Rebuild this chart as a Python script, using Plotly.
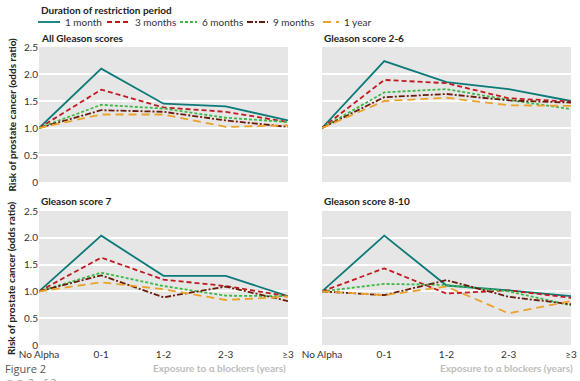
import plotly.graph_objects as go

categories = ["No Alpha", "0-1", "1-2", "2-3", "≥3"]
series_names = ["1 month", "3 months", "6 months", "9 months", "1 year"]
panel_titles = ["All Gleason scores", "Gleason score 2-6", "Gleason score 7", "Gleason score 8-10"]

all_scores = [
    [1.0, 2.10, 1.45, 1.40, 1.14],
    [1.0, 1.71, 1.38, 1.30, 1.11],
    [1.0, 1.43, 1.36, 1.19, 1.11],
    [1.0, 1.33, 1.30, 1.14, 1.02],
    [1.0, 1.25, 1.25, 1.02, 1.05],
]
score_2_6 = [
    [1.0, 2.24, 1.85, 1.72, 1.50],
    [1.0, 1.89, 1.83, 1.55, 1.49],
    [1.0, 1.66, 1.72, 1.52, 1.35],
    [1.0, 1.57, 1.63, 1.51, 1.47],
    [1.0, 1.50, 1.56, 1.42, 1.41],
]
score_7 = [
    [1.0, 2.04, 1.29, 1.29, 0.91],
    [1.0, 1.63, 1.22, 1.10, 0.91],
    [1.0, 1.35, 1.10, 0.92, 0.91],
    [1.0, 1.30, 0.89, 1.09, 0.82],
    [1.0, 1.17, 1.04, 0.84, 0.90],
]
score_8_10 = [
    [1.0, 2.04, 1.11, 1.02, 0.91],
    [1.0, 1.43, 0.96, 1.02, 0.88],
    [1.0, 1.14, 1.12, 1.00, 0.74],
    [1.0, 0.93, 1.21, 0.90, 0.76],
    [1.0, 0.93, 1.09, 0.59, 0.82],
]
y_ticks = [0, 0.5, 1.0, 1.5, 2.0, 2.5]
y_tick_labels = ["0", "0.5", "1.0", "1.5", "2.0", "2.5"]

colors = ["#0b7a78", "#c01a1f", "#3cb846", "#6a1c0c", "#eaa22a"]
dashes = ["solid", "5px,3px", "3px,2px", "6px,2px,2px,2px", "8px,5px"]

W, H = 580, 381
FONT = "Lato"

def px_x(p):
    return p / W

def px_y(p):
    return 1 - p / H

x_domains = [[px_x(39), px_x(288)], [px_x(322), px_x(571)]]
y_domains = [[px_y(182), px_y(47)], [px_y(345), px_y(211)]]

panels = [all_scores, score_2_6, score_7, score_8_10]

fig = go.Figure()
layout = {}
for p, data in enumerate(panels):
    row, col = divmod(p, 2)
    idx = p + 1
    xa = "x" if idx == 1 else f"x{idx}"
    ya = "y" if idx == 1 else f"y{idx}"
    for s, vals in enumerate(data):
        fig.add_trace(go.Scatter(
            x=list(range(len(categories))), y=vals, mode="lines",
            name=series_names[s], showlegend=False,
            line=dict(color=colors[s], width=1.8, dash=dashes[s]),
            xaxis=xa, yaxis=ya,
        ))
    layout[f"xaxis{'' if idx == 1 else idx}"] = dict(
        domain=x_domains[col], anchor=ya, range=[0, 4], automargin=False,
        tickmode="array", tickvals=list(range(len(categories))),
        ticktext=categories if row == 1 else [""] * len(categories),
        showgrid=False, zeroline=False, showline=False,
        ticks="", ticklen=0, ticklabelstandoff=2,
        tickfont=dict(size=10, color="#333", family=FONT),
    )
    layout[f"yaxis{'' if idx == 1 else idx}"] = dict(
        domain=y_domains[row], anchor=xa, range=[0, 2.5], automargin=False,
        tickmode="array", tickvals=y_ticks,
        ticktext=y_tick_labels if col == 0 else [""] * len(y_ticks),
        showgrid=True, gridcolor="white", gridwidth=1.5,
        zeroline=False, showline=False,
        tickfont=dict(size=10, color="#333", family=FONT),
        ticklen=0,
    )

fig.update_layout(**layout)

annotations = []
shapes = []
title_pos = [(39, 38), (322, 38), (39, 201), (322, 201)]
for t, (x, y) in zip(panel_titles, title_pos):
    annotations.append(dict(text=f"<b>{t}</b>", x=px_x(x), y=px_y(y), xref="paper", yref="paper",
                            xanchor="left", yanchor="middle", showarrow=False,
                            font=dict(size=10, color="#222", family=FONT)))
for yc in [(47 + 182) / 2, (211 + 345) / 2]:
    annotations.append(dict(text="<b>Risk of prostate cancer (odds ratio)</b>", x=px_x(11), y=px_y(yc),
                            xref="paper", yref="paper", textangle=-90, showarrow=False,
                            xanchor="center", yanchor="middle",
                            font=dict(size=10, color="#222", family=FONT)))
for xr in [288, 575]:
    annotations.append(dict(text="<b>Exposure to α blockers (years)</b>", x=px_x(xr), y=px_y(368),
                            xref="paper", yref="paper", xanchor="right", yanchor="middle",
                            showarrow=False, font=dict(size=10, color="#bdbdbd", family=FONT)))
annotations.append(dict(text="Figure 2", x=px_x(3), y=px_y(368), xref="paper", yref="paper",
                        xanchor="left", yanchor="middle", showarrow=False,
                        font=dict(size=11, color="#555", family="Open Sans")))
annotations.append(dict(text="◎◎ 2 of 2", x=px_x(3), y=px_y(383), xref="paper", yref="paper",
                        xanchor="left", yanchor="middle", showarrow=False,
                        font=dict(size=11, color="#999", family="Open Sans")))
annotations.append(dict(text="<b>Duration of restriction period</b>", x=px_x(39), y=px_y(10),
                        xref="paper", yref="paper", xanchor="left", yanchor="middle",
                        showarrow=False, font=dict(size=10, color="#222", family=FONT)))

# manual legend
legend_line_x = [(38, 60), (107, 130), (180, 197), (247, 268), (323, 339)]
LEG_Y = 22
for s, (x0, x1) in enumerate(legend_line_x):
    shapes.append(dict(type="line", xref="paper", yref="paper",
                       x0=px_x(x0), x1=px_x(x1), y0=px_y(LEG_Y), y1=px_y(LEG_Y),
                       line=dict(color=colors[s], width=1.8, dash=dashes[s])))
    annotations.append(dict(text=series_names[s], x=px_x(x1 + 3), y=px_y(LEG_Y), xref="paper", yref="paper",
                            xanchor="left", yanchor="middle", showarrow=False,
                            font=dict(size=10, color="#333", family=FONT)))

fig.update_layout(
    width=W, height=H,
    margin=dict(l=0, r=0, t=0, b=0, autoexpand=False),
    paper_bgcolor="white",
    plot_bgcolor="#e6e6e6",
    font=dict(family=FONT, size=10, color="#333"),
    annotations=annotations,
    shapes=shapes,
    showlegend=False,
)

fig.write_html("out.html", config={"displayModeBar": False},
               post_script="document.body.style.margin='0';")
